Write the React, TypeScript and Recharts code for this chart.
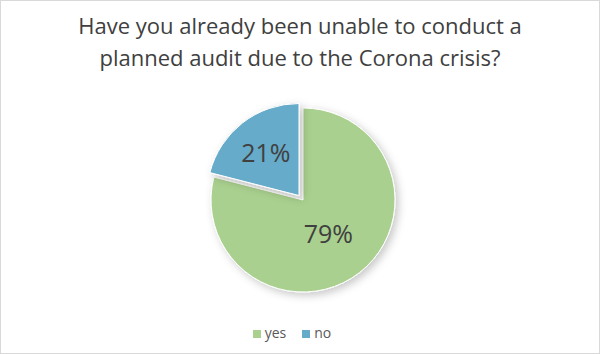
import React from 'react';
import { PieChart, Pie, Cell, Legend } from 'recharts';

// survey answers
const ANSWERS = ['yes', 'no'];
const SHARES = [79, 21];
const COLORS = ['#A9D08E', '#66ABC9'];
const EXPLODE = [false, true];

const TITLE_LINES = [
  'Have you already been unable to conduct a',
  'planned audit due to the Corona crisis?',
];

const data = ANSWERS.map((name, i) => ({ name, value: SHARES[i] }));

const RAD = Math.PI / 180;
const FONT = '"Open Sans", sans-serif';

function renderLabel(props: any) {
  const { cx, cy, midAngle, outerRadius, percent, index } = props;
  const r = outerRadius * (EXPLODE[index] ? 0.66 : 0.45);
  const x = cx + r * Math.cos(-midAngle * RAD);
  const y = cy + r * Math.sin(-midAngle * RAD);
  return (
    <text
      x={x}
      y={y}
      fill="#404040"
      fontSize={25}
      fontFamily={FONT}
      textAnchor="middle"
      dominantBaseline="central"
    >
      {`${Math.round(percent * 100)}%`}
    </text>
  );
}

export default function App() {
  return (
    <div
      style={{
        position: 'absolute',
        left: 0,
        top: 0,
        width: 600,
        height: 354,
        boxSizing: 'border-box',
        border: '1px solid #d9d9d9',
        background: '#fff',
        fontFamily: FONT,
      }}
    >
      <div
        style={{
          position: 'absolute',
          top: 8,
          left: 0,
          width: 598,
          textAlign: 'center',
          fontSize: 22,
          lineHeight: '32px',
          color: '#404040',
        }}
      >
        {TITLE_LINES.map((t) => (
          <div key={t}>{t}</div>
        ))}
      </div>
      <div style={{ position: 'absolute', left: -1, top: -1 }}>
        <PieChart width={600} height={354} margin={{ top: 0, right: 0, bottom: 0, left: 0 }}>
          <defs>
            <filter id="pieShadow" x="-20%" y="-20%" width="150%" height="150%">
              <feDropShadow dx="3" dy="3" stdDeviation="4" floodColor="#000" floodOpacity="0.22" />
            </filter>
          </defs>
          <Pie
            data={data}
            dataKey="value"
            nameKey="name"
            cx={303}
            cy={200}
            outerRadius={92}
            startAngle={90}
            endAngle={-270}
            stroke="#fff"
            strokeWidth={1}
            labelLine={false}
            label={renderLabel}
            isAnimationActive={false}
          >
            {data.map((d, i) => (
              <Cell
                key={d.name}
                fill={COLORS[i]}
                filter="url(#pieShadow)"
                transform={EXPLODE[i] ? 'translate(-4,-4.5)' : undefined}
              />
            ))}
          </Pie>
          <Legend
            verticalAlign="bottom"
            align="center"
            iconType="square"
            iconSize={8}
            itemSorter={(item: any) => ANSWERS.indexOf(item.value)}
            wrapperStyle={{ bottom: 11, left: 0, width: 600 }}
            formatter={(value: string) => (
              <span style={{ color: '#595959', fontSize: 14, fontFamily: FONT, marginRight: 6 }}>{value}</span>
            )}
          />
        </PieChart>
      </div>
    </div>
  );
}
